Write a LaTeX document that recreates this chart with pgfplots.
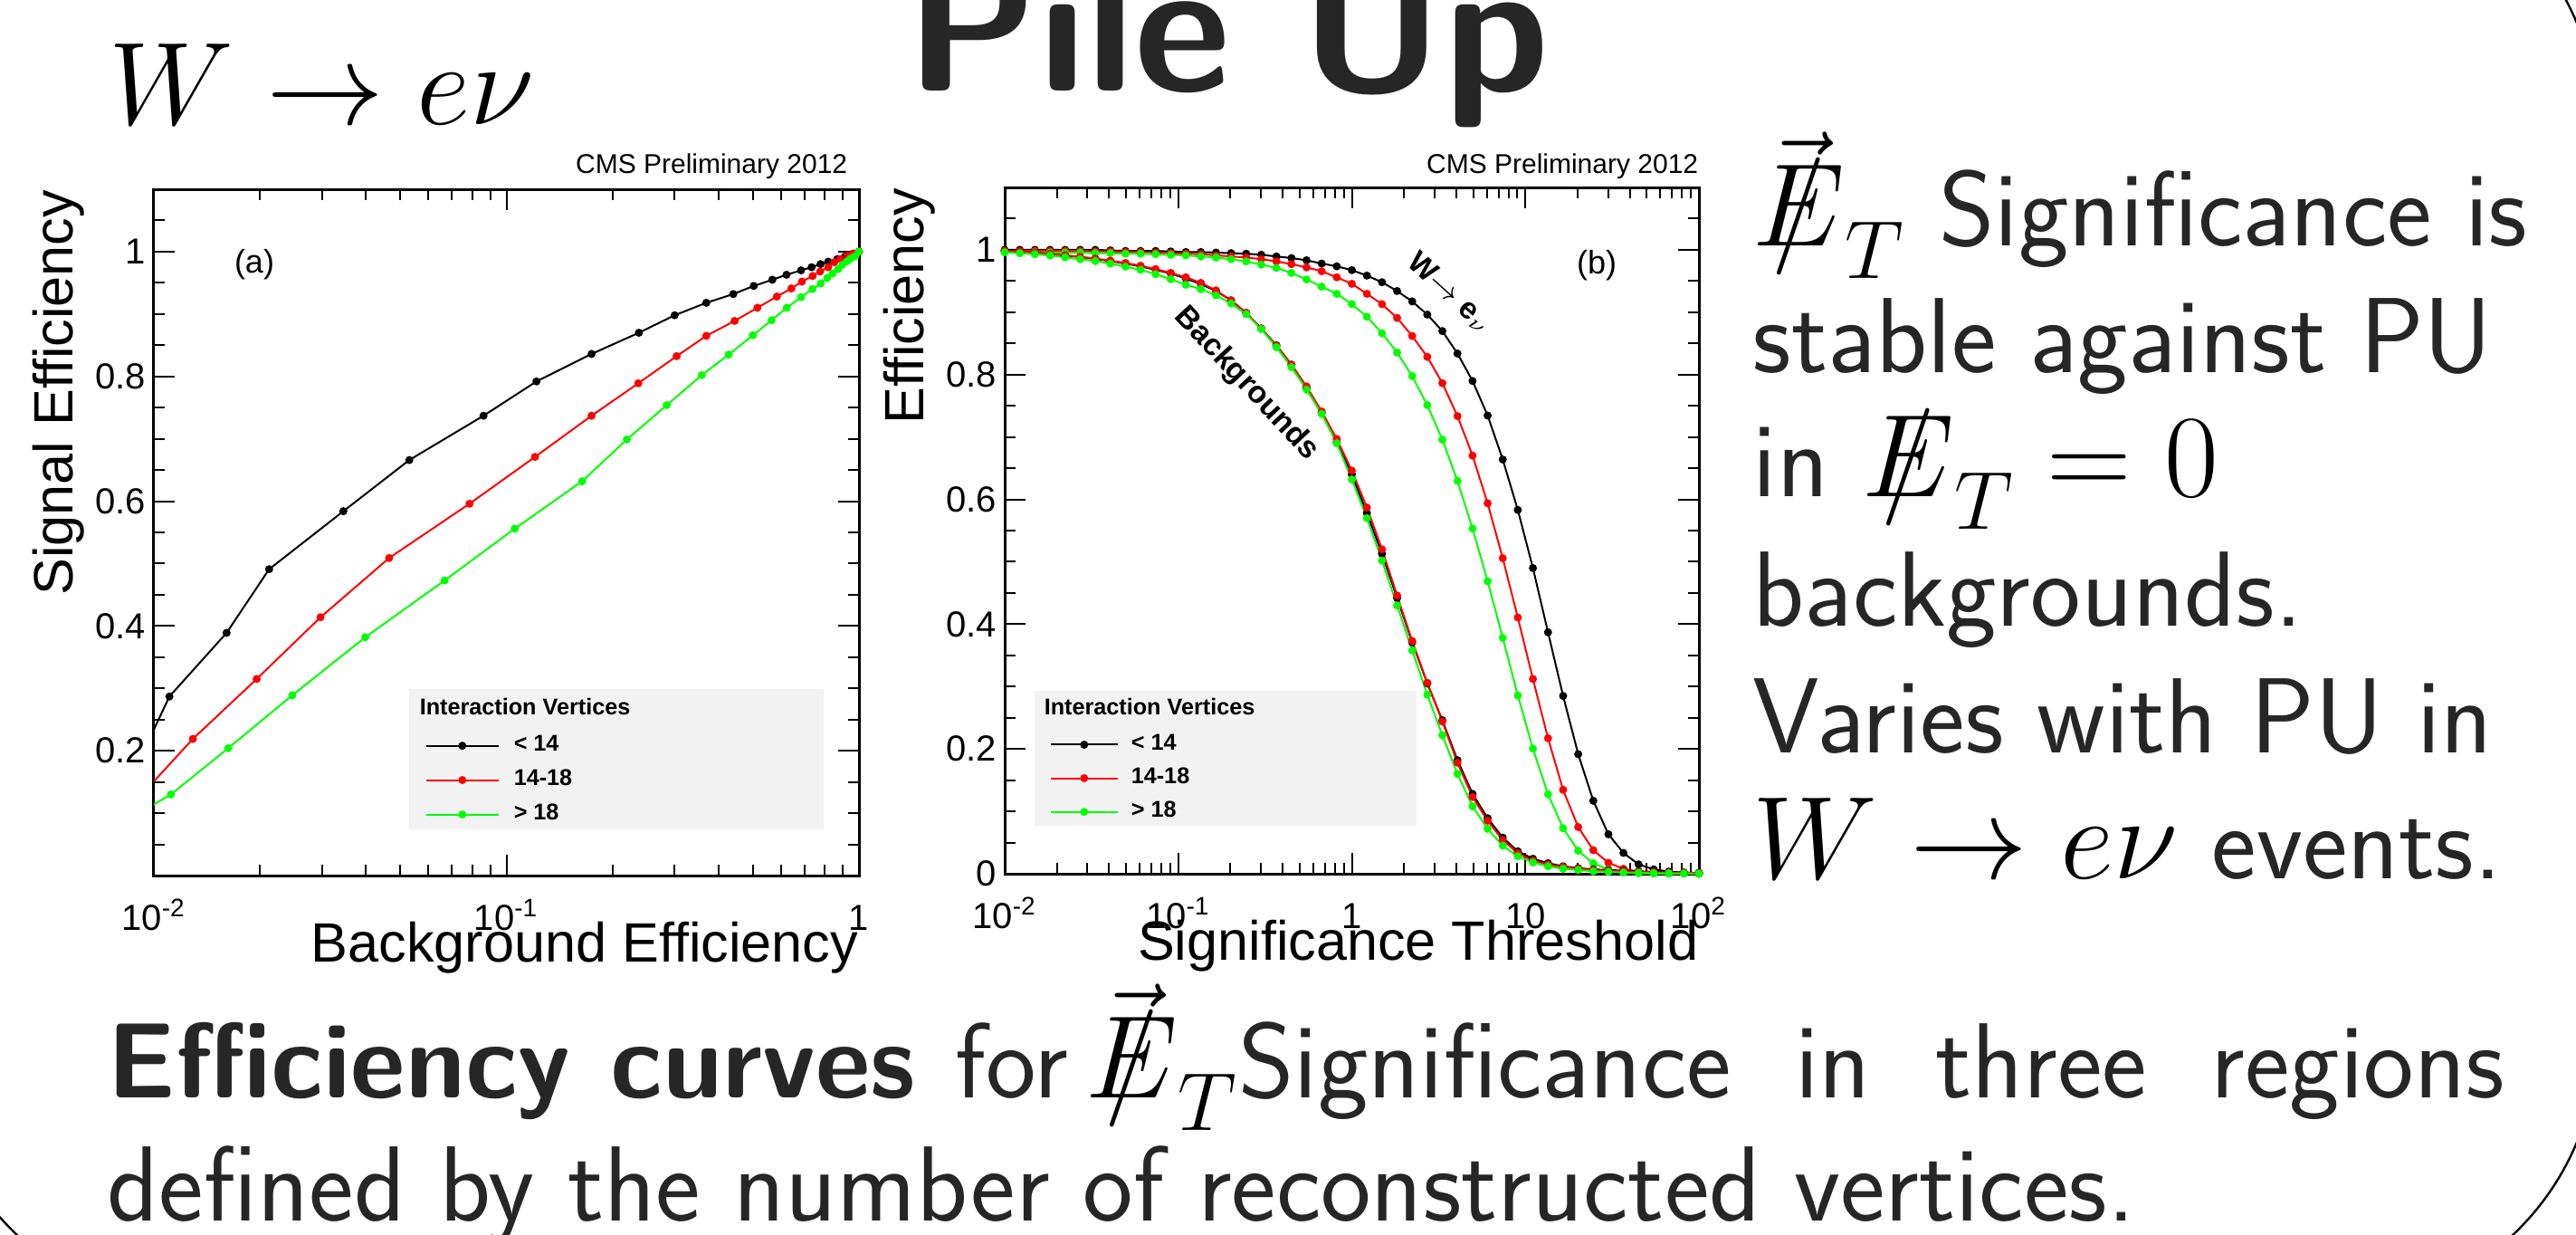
\RequirePackage{fix-cm}
\documentclass[border=0pt]{standalone}
\usepackage{pgfplots}
\pgfplotsset{compat=1.18}
\usepackage{pgfplotstable}
\usepackage{fontspec}
\newfontfamily\rootfont{Liberation Sans}
\definecolor{slidegray}{RGB}{38,38,38}
\definecolor{leggray}{RGB}{242,242,242}
\definecolor{rgreen}{RGB}{0,255,0}
\definecolor{rred}{RGB}{255,0,0}
\newcommand\slE{\mbox{\ooalign{$E$\cr\hidewidth$/$\hidewidth\cr}}}
\newcommand\MET{\vec{\slE}_T}
\newcommand\MEt{\slE_T}
\newcommand\slidemath[1]{{\color{black}\fontsize{32.5}{38}\selectfont$#1$}}

\pgfplotstableread{
x y
0.01107 0.287
0.01608 0.389
0.02123 0.491
0.03448 0.584
0.05304 0.666
0.0861 0.737
0.1217 0.792
0.1744 0.836
0.2375 0.870
0.300 0.898
0.369 0.918
0.440 0.932
0.503 0.945
0.568 0.955
0.623 0.963
0.685 0.970
0.734 0.975
0.778 0.980
0.818 0.984
0.868 0.988
0.912 0.992
0.955 0.996
1.0 1.0
}\aBlack
\pgfplotstableread{
x y
0.0129 0.219
0.01957 0.315
0.0297 0.414
0.0465 0.509
0.0786 0.596
0.1205 0.671
0.1744 0.737
0.2366 0.789
0.304 0.8325
0.369 0.865
0.444 0.889
0.515 0.910
0.585 0.928
0.643 0.941
0.689 0.952
0.739 0.961
0.776 0.968
0.818 0.975
0.851 0.983
0.885 0.988
0.93 0.994
0.965 0.997
1.0 1.0
}\aRed
\pgfplotstableread{
x y
0.01118 0.130
0.01624 0.204
0.0247 0.289
0.0398 0.382
0.0668 0.473
0.1056 0.556
0.164 0.632
0.2196 0.699
0.285 0.754
0.358 0.802
0.427 0.835
0.500 0.866
0.565 0.890
0.624 0.910
0.685 0.927
0.738 0.940
0.779 0.949
0.813 0.958
0.842 0.965
0.873 0.972
0.897 0.979
0.925 0.9845
0.948 0.989
0.977 0.993
1.0 1.0
}\aGreen
\pgfplotstableread{
x bs rs gs bb rb gb
0.01 1.0 0.9982 0.9974 0.9982 0.9982 0.996
0.012217 1.0 0.9982 0.9965 0.997 0.997 0.9945
0.014925 1.0 0.9982 0.9965 0.9956 0.9956 0.993
0.018233 1.0 0.9982 0.9956 0.9935 0.9935 0.991
0.022276 1.0 0.9982 0.9956 0.991 0.9912 0.988
0.027213 1.0 0.9982 0.9956 0.9885 0.9888 0.985
0.033246 1.0 0.9974 0.9947 0.9855 0.9859 0.982
0.040617 0.9991 0.9974 0.9947 0.982 0.9826 0.978
0.04962 0.9982 0.9965 0.9938 0.978 0.9789 0.973
0.060619 0.9982 0.9965 0.9938 0.9735 0.9745 0.968
0.074058 0.9982 0.9956 0.993 0.968 0.9692 0.961
0.090473 0.9974 0.9947 0.9921 0.962 0.963 0.953
0.110531 0.9965 0.9938 0.9912 0.954 0.956 0.944
0.135029 0.9965 0.993 0.9894 0.945 0.947 0.937
0.164962 0.9956 0.9912 0.9877 0.934 0.935 0.927
0.201532 0.9947 0.9894 0.985 0.919 0.919 0.914
0.246203 0.9938 0.9877 0.9815 0.899 0.899 0.897
0.300783 0.9921 0.985 0.9763 0.874 0.874 0.873
0.36746 0.9894 0.9815 0.971 0.847 0.846 0.844
0.44891 0.9868 0.9771 0.963 0.816 0.816 0.812
0.54843 0.9833 0.9719 0.9525 0.779 0.781 0.776
0.67001 0.978 0.9657 0.941 0.739 0.741 0.737
0.81852 0.9736 0.956 0.9296 0.692 0.697 0.690
1.0 0.9675 0.9455 0.9129 0.640 0.646 0.632
1.2217 0.9587 0.9296 0.8927 0.578 0.587 0.570
1.4925 0.9481 0.9129 0.8663 0.513 0.520 0.502
1.8233 0.934 0.8909 0.8355 0.442 0.446 0.430
2.2276 0.9173 0.8619 0.7977 0.371 0.373 0.358
2.7213 0.8962 0.8285 0.7511 0.305 0.306 0.287
3.3246 0.8698 0.7863 0.6957 0.246 0.244 0.222
4.0617 0.8338 0.7335 0.6297 0.182 0.178 0.160
4.962 0.7898 0.6702 0.5532 0.128 0.123 0.108
6.0619 0.7344 0.5937 0.4688 0.089 0.085 0.072
7.4058 0.664 0.5057 0.3782 0.058 0.054 0.045
9.0473 0.5831 0.4107 0.2858 0.036 0.033 0.028
11.0531 0.4899 0.3122 0.2005 0.024 0.021 0.018
13.5029 0.387 0.2172 0.1275 0.017 0.015 0.012
16.4962 0.285 0.1346 0.073 0.012 0.011 0.008
20.1532 0.1917 0.0748 0.0369 0.009 0.008 0.006
24.6203 0.117 0.0378 0.0167 0.007 0.006 0.004
30.0783 0.0633 0.0176 0.007 0.006 0.005 0.003
36.746 0.0334 0.0079 0.0026 0.005 0.004 0.002
44.891 0.015 0.0035 0.0009 0.004 0.003 0.0015
54.843 0.007 0.0018 0.0003 0.003 0.0025 0.001
67.001 0.0035 0.0009 0.0 0.0025 0.002 0.0008
81.852 0.0018 0.0005 0.0 0.002 0.0015 0.0005
100 0.0009 0.0 0.0 0.0015 0.001 0.0003
}\bData

\pgfplotsset{
  rootaxis/.style={
    scale only axis, height=189.5pt,
    ymin=0, ymax=1.1,
    tick align=inside, major tick length=5.75pt, minor tick length=3pt,
    tick style={black, line width=0.5pt},
    axis line style={line width=0.75pt},
    tick label style={font=\rootfont\fontsize{10}{12}\selectfont},
    yticklabel style={anchor=east, inner sep=0pt, xshift=-2pt},
    xticklabel style={anchor=base, inner sep=0pt, yshift=-15pt},
    label style={font=\rootfont\fontsize{15.3}{18}\selectfont},
    minor ytick={0.05,0.1,0.15,0.25,0.3,0.35,0.45,0.5,0.55,0.65,0.7,0.75,0.85,0.9,0.95,1.05},
    legend cell align=left,
  },
  cur/.style={#1, line width=0.5pt, mark=*, mark size=0.85pt, mark options={solid, fill=#1, draw=#1}},
}

\begin{document}
\begin{tikzpicture}
\path[use as bounding box] (0,0) rectangle (711.5pt,-340.75pt);
\begin{scope}[x=0.25pt,y=-0.25pt]
\draw[line width=0.6pt, rounded corners=75pt] (-75,-159) rectangle (2870,1446);
\fill[leggray] (452,761) rectangle (910,916);
\fill[leggray] (1143,763) rectangle (1565,912);
\end{scope}

\begin{axis}[xmode=log, rootaxis,
  at={(42.5pt,-241.75pt)}, anchor=south west, width=194.75pt,
  xmin=0.01, xmax=1,
  xtick={0.01,0.1,1}, xticklabels={10\textsuperscript{-2},10\textsuperscript{-1},1},
  minor xtick={0.02,0.03,0.04,0.05,0.06,0.07,0.08,0.09,0.2,0.3,0.4,0.5,0.6,0.7,0.8,0.9},
  ytick={0.2,0.4,0.6,0.8,1}, yticklabels={0.2,0.4,0.6,0.8,1},
  xlabel={Background Efficiency}, ylabel={Signal Efficiency},
  xlabel style={at={(axis description cs:1,-0.1253)}, anchor=base east, inner sep=0pt},
  ylabel style={at={(axis description cs:-0.1155,1)}, anchor=base east, inner sep=0pt},
  legend style={draw=none, fill=none, inner sep=0pt, at={(axis description cs:0.3838,0.139)}, anchor=west,
    row sep=3.6pt, column sep=4pt, font=\rootfont\bfseries\fontsize{6.3}{7}\selectfont, nodes={inner sep=0pt}},
  legend image code/.code={\draw[#1, mark repeat=2, mark phase=2] plot coordinates {(0pt,0pt) (10pt,0pt) (20pt,0pt)};},
]
\addplot[black, line width=0.5pt, forget plot] coordinates {(0.01,0.234) (0.01107,0.287)};
\addplot[rred, line width=0.5pt, forget plot] coordinates {(0.01,0.151) (0.0129,0.219)};
\addplot[rgreen, line width=0.5pt, forget plot] coordinates {(0.01,0.114) (0.01118,0.130)};
\addplot[cur=black] table[x=x,y=y] {\aBlack};
\addlegendentry{< 14}
\addplot[cur=rred] table[x=x,y=y] {\aRed};
\addlegendentry{14-18}
\addplot[cur=rgreen] table[x=x,y=y] {\aGreen};
\addlegendentry{> 18}
\end{axis}

\begin{axis}[xmode=log, rootaxis,
  at={(277.5pt,-241.25pt)}, anchor=south west, width=191.75pt,
  xmin=0.01, xmax=100,
  xtick={0.01,0.1,1,10,100}, xticklabels={10\textsuperscript{-2},10\textsuperscript{-1},1,10,10\textsuperscript{2}},
  minor xtick={0.02,0.03,0.04,0.05,0.06,0.07,0.08,0.09,0.2,0.3,0.4,0.5,0.6,0.7,0.8,0.9,2,3,4,5,6,7,8,9,20,30,40,50,60,70,80,90},
  ytick={0,0.2,0.4,0.6,0.8,1}, yticklabels={0,0.2,0.4,0.6,0.8,1},
  xlabel={Significance Threshold}, ylabel={Efficiency},
  xlabel style={at={(axis description cs:1,-0.1253)}, anchor=base east, inner sep=0pt},
  ylabel style={at={(axis description cs:-0.1173,1)}, anchor=base east, inner sep=0pt},
  legend style={draw=none, fill=none, inner sep=0pt, at={(axis description cs:0.0639,0.139)}, anchor=west,
    row sep=3.4pt, column sep=3.5pt, font=\rootfont\bfseries\fontsize{6.3}{7}\selectfont, nodes={inner sep=0pt}},
  legend image code/.code={\draw[#1, mark repeat=2, mark phase=2] plot coordinates {(0pt,0pt) (9.25pt,0pt) (18.5pt,0pt)};},
]
\addplot[cur=black] table[x=x,y=bs] {\bData};
\addlegendentry{< 14}
\addplot[cur=rred] table[x=x,y=rs] {\bData};
\addlegendentry{14-18}
\addplot[cur=rgreen] table[x=x,y=gs] {\bData};
\addlegendentry{> 18}
\addplot[cur=black, forget plot] table[x=x,y=bb] {\bData};
\addplot[cur=rred, forget plot] table[x=x,y=rb] {\bData};
\addplot[cur=rgreen, forget plot] table[x=x,y=gb] {\bData};
\end{axis}

\begin{scope}[x=0.25pt,y=-0.25pt]
% plot annotations
\node[anchor=base east, inner sep=0pt, font=\rootfont\fontsize{7.5}{9}\selectfont] at (937,191) {CMS Preliminary 2012};
\node[anchor=base east, inner sep=0pt, font=\rootfont\fontsize{7.5}{9}\selectfont] at (1877,191) {CMS Preliminary 2012};
\node[inner sep=0pt, font=\rootfont\fontsize{9}{11}\selectfont] at (281,292) {(a)};
\node[inner sep=0pt, font=\rootfont\fontsize{9}{11}\selectfont] at (1764,293) {(b)};
\node[anchor=base west, inner sep=0pt, font=\rootfont\bfseries\fontsize{6.3}{7}\selectfont] at (463,789) {Interaction Vertices};
\node[anchor=base west, inner sep=0pt, font=\rootfont\bfseries\fontsize{6.3}{7}\selectfont] at (1153,789) {Interaction Vertices};
\node[rotate=-47, inner sep=0pt, font=\rootfont\bfseries\fontsize{8.5}{10}\selectfont] at (1377,424) {Backgrounds};
\node[rotate=-42, inner sep=0pt, font=\rootfont\bfseries\fontsize{8.3}{10}\selectfont] at (1602,324) {W$\rightarrow$ e$_{\nu}$};
% slide text
\node[anchor=base west, inner sep=0pt, text=slidegray, font=\sffamily\bfseries\fontsize{52}{60}\selectfont] at (1000,100) {Pile Up};
\node[anchor=base west, inner sep=0pt, font=\fontsize{32.5}{38}\selectfont] at (120,137) {$W\rightarrow e\nu$};
\begin{scope}[every node/.style={anchor=base west, inner sep=0pt, text=slidegray, font=\sffamily\fontsize{29.5}{35}\selectfont}]
\node at (1936,271) {\slidemath{\MET} Significance is};
\node at (1936,411) {stable against PU};
\node at (1936,548) {in \slidemath{\MEt=0}};
\node at (1936,691) {backgrounds.};
\node at (1936,831) {Varies with PU in};
\node at (1936,970) {\slidemath{W\rightarrow e\nu} events.};
\node at (118,1212) {\makebox[662pt][l]{\spaceskip=11pt\relax\textbf{Efficiency curves} for\hspace{5pt}\slidemath{\MET}{\spaceskip=11pt plus 1fill\relax Significance in three regions}}};
\node at (118,1348) {defined by the number of reconstructed vertices.};
\end{scope}
\end{scope}
\end{tikzpicture}
\end{document}
